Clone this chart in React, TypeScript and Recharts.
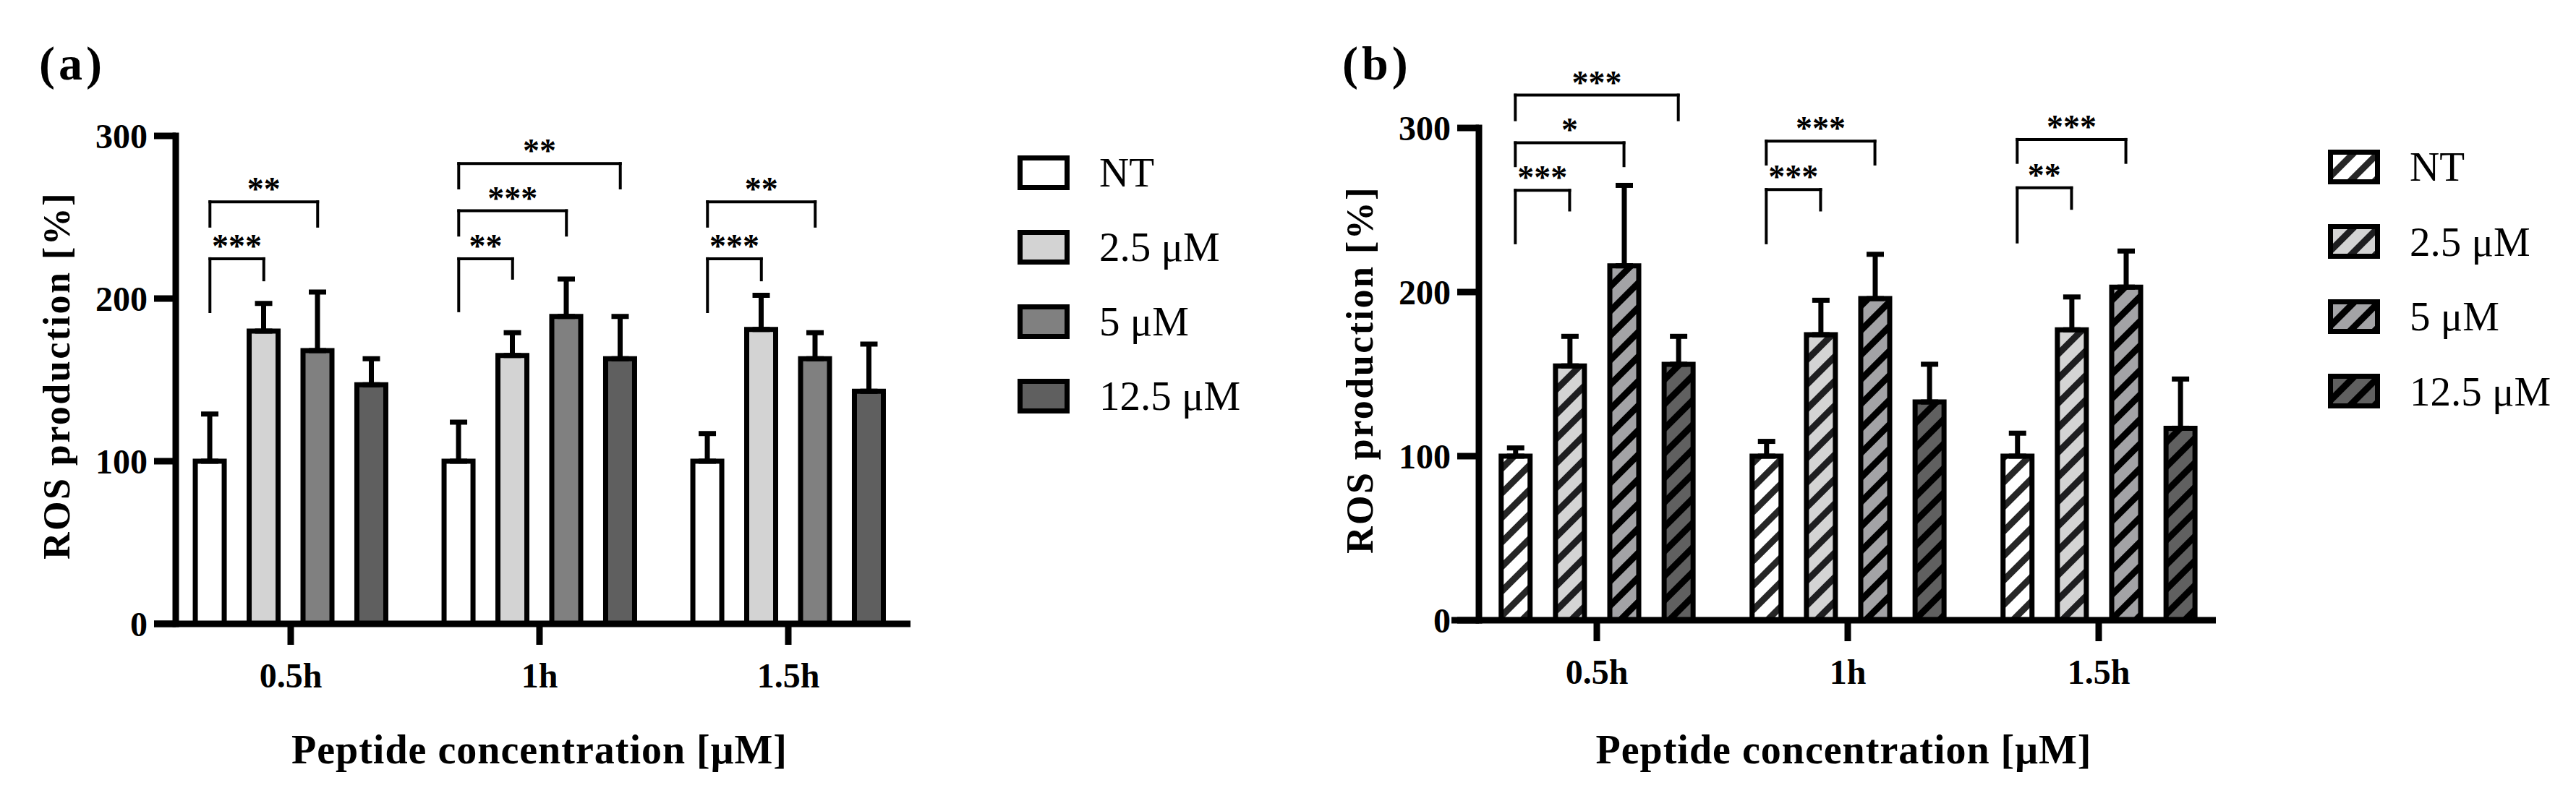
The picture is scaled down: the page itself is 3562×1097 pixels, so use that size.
import React from 'react';
import { BarChart, Bar, XAxis, YAxis, Cell, ErrorBar, ReferenceLine } from 'recharts';

const FONT = "'Liberation Serif', 'Times New Roman', serif";

const GROUPS = ['0.5h', '1h', '1.5h'];
const SERIES = ['NT', '2.5 μM', '5 μM', '12.5 μM'];
const Y_TICKS = [0, 100, 200, 300];

// (a) solid bars
const A_NT = [100, 100, 100];
const A_NT_SD = [29, 24, 17];
const A_C25 = [180, 165, 181];
const A_C25_SD = [17, 14, 21];
const A_C5 = [168, 189, 163];
const A_C5_SD = [36, 23, 16];
const A_C125 = [147, 163, 143];
const A_C125_SD = [16, 26, 29];

// (b) hatched bars
const B_NT = [100, 100, 100];
const B_NT_SD = [5, 9, 14];
const B_C25 = [155, 174, 177];
const B_C25_SD = [18, 21, 20];
const B_C5 = [216, 196, 203];
const B_C5_SD = [49, 27, 22];
const B_C125 = [156, 133, 117];
const B_C125_SD = [17, 23, 30];

// significance brackets: NT vs series `to`, in the given group
const A_SIG = [
  { group: 0, to: 1, y: 224.5, leftEnd: 192, rightEnd: 211.5, label: '***' },
  { group: 0, to: 2, y: 259.5, leftEnd: 244.5, rightEnd: 244.5, label: '**' },
  { group: 1, to: 1, y: 224.5, leftEnd: 192.5, rightEnd: 212.5, label: '**' },
  { group: 1, to: 2, y: 254, leftEnd: 239, rightEnd: 239, label: '***' },
  { group: 1, to: 3, y: 283, leftEnd: 268, rightEnd: 268, label: '**' },
  { group: 2, to: 1, y: 224.5, leftEnd: 192, rightEnd: 211.5, label: '***' },
  { group: 2, to: 2, y: 259.5, leftEnd: 244.5, rightEnd: 244.5, label: '**' },
];
const B_SIG = [
  { group: 0, to: 1, y: 262, leftEnd: 230, rightEnd: 250, label: '***' },
  { group: 0, to: 2, y: 291, leftEnd: 277, rightEnd: 277, label: '*' },
  { group: 0, to: 3, y: 320, leftEnd: 305, rightEnd: 305, label: '***' },
  { group: 1, to: 1, y: 262.5, leftEnd: 230, rightEnd: 250, label: '***' },
  { group: 1, to: 2, y: 292, leftEnd: 278, rightEnd: 278, label: '***' },
  { group: 2, to: 1, y: 263.5, leftEnd: 230.5, rightEnd: 251, label: '**' },
  { group: 2, to: 2, y: 293, leftEnd: 279, rightEnd: 279, label: '***' },
];

const A_FILLS = ['#ffffff', '#d3d3d3', '#808080', '#5f5f5f'];
const B_BASES = ['#ffffff', '#d4d4d4', '#a3a3a6', '#606060'];
const B_STRIPES = ['#262626', '#1e1e20', '#000000', '#000000'];
const B_FILLS = B_BASES.map((_, i) => `url(#hatch-${i})`);

const BAR_STEP = 0.2165; // bar pitch inside a group, in category units

const barX = (g: number, s: number) => g + (s - 1.5) * BAR_STEP;

function buildRows(means: number[][], sds: number[][]) {
  const rows: any[] = [];
  GROUPS.forEach((g, gi) => {
    SERIES.forEach((_, si) => {
      rows.push({ x: barX(gi, si), value: means[si][gi], err: [0, sds[si][gi]], series: si, group: g });
    });
  });
  return rows;
}

const A_ROWS = buildRows([A_NT, A_C25, A_C5, A_C125], [A_NT_SD, A_C25_SD, A_C5_SD, A_C125_SD]);
const B_ROWS = buildRows([B_NT, B_C25, B_C5, B_C125], [B_NT_SD, B_C25_SD, B_C5_SD, B_C125_SD]);

const H = 1097;
const AXIS_W = 120;
const XAXIS_H = 100;

interface PanelProps {
  letter: string;
  left: number;
  width: number;
  top: number;
  bottom: number;
  yAxisX: number;
  axisStart: number;
  xEnd: number;
  firstTick: number;
  tickStep: number;
  rows: any[];
  fills: string[];
  sig: typeof A_SIG;
  legendX: number;
  legendTop: number;
  legendStep: number;
  titleDy: number;
}

function Panel(p: PanelProps) {
  const d0 = -(p.firstTick - p.yAxisX) / p.tickStep;
  const d1 = (p.xEnd - p.firstTick) / p.tickStep;
  const ext = d0 - (p.yAxisX - p.axisStart) / p.tickStep;
  const tickFont = { fill: '#000', fontSize: 48, fontWeight: 700, fontFamily: FONT };

  return (
    <div style={{ position: 'absolute', left: p.left, top: 0, width: p.width, height: H }}>
      <div
        style={{
          position: 'absolute',
          left: 54,
          top: 50,
          fontFamily: FONT,
          fontWeight: 700,
          fontSize: 66,
          letterSpacing: 5,
          lineHeight: '76px',
        }}
      >
        {p.letter}
      </div>
      <BarChart
        width={p.width}
        height={H}
        data={p.rows}
        margin={{ top: p.top, left: p.yAxisX - AXIS_W, right: p.width - p.xEnd, bottom: H - p.bottom - XAXIS_H }}
      >
        <XAxis
          type="number"
          dataKey="x"
          domain={[d0, d1]}
          allowDataOverflow
          ticks={[0, 1, 2]}
          interval={0}
          tickFormatter={(v: number) => GROUPS[Math.round(v)]}
          axisLine={false}
          tickSize={29}
          tickMargin={25}
          tickLine={{ stroke: '#000', strokeWidth: 9 }}
          tick={tickFont}
          height={XAXIS_H}
          label={{
            content: (lp: any) => {
              const vb = lp.viewBox || {};
              return (
                <text
                  x={vb.x + vb.width / 2 - 5}
                  y={vb.y + p.titleDy}
                  textAnchor="middle"
                  fontFamily={FONT}
                  fontWeight={700}
                  fontSize={56}
                  letterSpacing={1}
                  fill="#000"
                >
                  Peptide concentration [μM]
                </text>
              );
            },
          }}
        />
        <YAxis
          type="number"
          domain={[0, 300]}
          ticks={Y_TICKS}
          allowDataOverflow
          width={AXIS_W}
          tickSize={30}
          tickMargin={9}
          tickLine={{ stroke: '#000', strokeWidth: 9 }}
          axisLine={{ stroke: '#000', strokeWidth: 9, strokeLinecap: 'square' }}
          tick={tickFont}
          label={{
            content: (lp: any) => {
              const vb = lp.viewBox || {};
              const cx = vb.x - 45;
              const cy = vb.y + vb.height / 2 - 6;
              return (
                <text
                  x={cx}
                  y={cy}
                  transform={`rotate(-90, ${cx}, ${cy})`}
                  textAnchor="middle"
                  dominantBaseline="central"
                  fontFamily={FONT}
                  fontWeight={700}
                  fontSize={52}
                  letterSpacing={2.5}
                  fill="#000"
                >
                  ROS production [%]
                </text>
              );
            },
          }}
        />
        <Bar dataKey="value" barSize={40} stroke="#000" strokeWidth={7} isAnimationActive={false}>
          {p.rows.map((r, i) => (
            <Cell key={i} fill={p.fills[r.series]} />
          ))}
          <ErrorBar dataKey="err" direction="y" width={12} strokeWidth={7} stroke="#000" />
        </Bar>
        <ReferenceLine
          segment={[
            { x: ext, y: 0 },
            { x: d1, y: 0 },
          ]}
          stroke="#000"
          strokeWidth={9}
          ifOverflow="visible"
        />
        {p.sig.flatMap((b, i) => {
          const x1 = barX(b.group, 0);
          const x2 = barX(b.group, b.to);
          const common = { stroke: '#000', strokeWidth: 4, strokeLinecap: 'square' as const, ifOverflow: 'visible' as const };
          return [
            <ReferenceLine key={`l${i}`} segment={[{ x: x1, y: b.leftEnd }, { x: x1, y: b.y }]} {...common} />,
            <ReferenceLine
              key={`t${i}`}
              segment={[{ x: x1, y: b.y }, { x: x2, y: b.y }]}
              {...common}
              label={{
                value: b.label,
                position: 'top',
                offset: 2,
                fill: '#000',
                fontSize: 46,
                fontWeight: 700,
                fontFamily: FONT,
              }}
            />,
            <ReferenceLine key={`r${i}`} segment={[{ x: x2, y: b.y }, { x: x2, y: b.rightEnd }]} {...common} />,
          ];
        })}
      </BarChart>
      <div style={{ position: 'absolute', left: p.legendX, top: p.legendTop }}>
        {SERIES.map((s, i) => (
          <div key={s} style={{ display: 'flex', alignItems: 'center', height: p.legendStep }}>
            <svg width={72} height={48} style={{ display: 'block' }}>
              <rect x={3.5} y={3.5} width={65} height={41} fill={p.fills[i]} stroke="#000" strokeWidth={7} />
            </svg>
            <span style={{ marginLeft: 41, fontFamily: FONT, fontSize: 57, lineHeight: 1, color: '#000' }}>{s}</span>
          </div>
        ))}
      </div>
    </div>
  );
}

export default function App() {
  return (
    <div style={{ position: 'absolute', left: 0, top: 0, width: 3562, height: H, background: '#fff', overflow: 'hidden' }}>
      <svg width={0} height={0} style={{ position: 'absolute' }}>
        <defs>
          {B_BASES.map((base, i) => (
            <pattern
              key={i}
              id={`hatch-${i}`}
              patternUnits="userSpaceOnUse"
              width={24}
              height={24}
              patternTransform="rotate(45)"
            >
              <rect width={24} height={24} fill={base} />
              <rect width={9} height={24} fill={B_STRIPES[i]} />
            </pattern>
          ))}
        </defs>
      </svg>
      <Panel
        letter="(a)"
        left={0}
        width={1780}
        top={188}
        bottom={863}
        yAxisX={243}
        axisStart={213}
        xEnd={1259}
        firstTick={402}
        tickStep={344}
        rows={A_ROWS}
        fills={A_FILLS}
        sig={A_SIG}
        legendX={1407}
        legendTop={187}
        legendStep={103}
        titleDy={193}
      />
      <Panel
        letter="(b)"
        left={1802}
        width={1760}
        top={177}
        bottom={858}
        yAxisX={243}
        axisStart={205}
        xEnd={1262}
        firstTick={406}
        tickStep={347}
        rows={B_ROWS}
        fills={B_FILLS}
        sig={B_SIG}
        legendX={1417}
        legendTop={179}
        legendStep={103.5}
        titleDy={198}
      />
    </div>
  );
}
